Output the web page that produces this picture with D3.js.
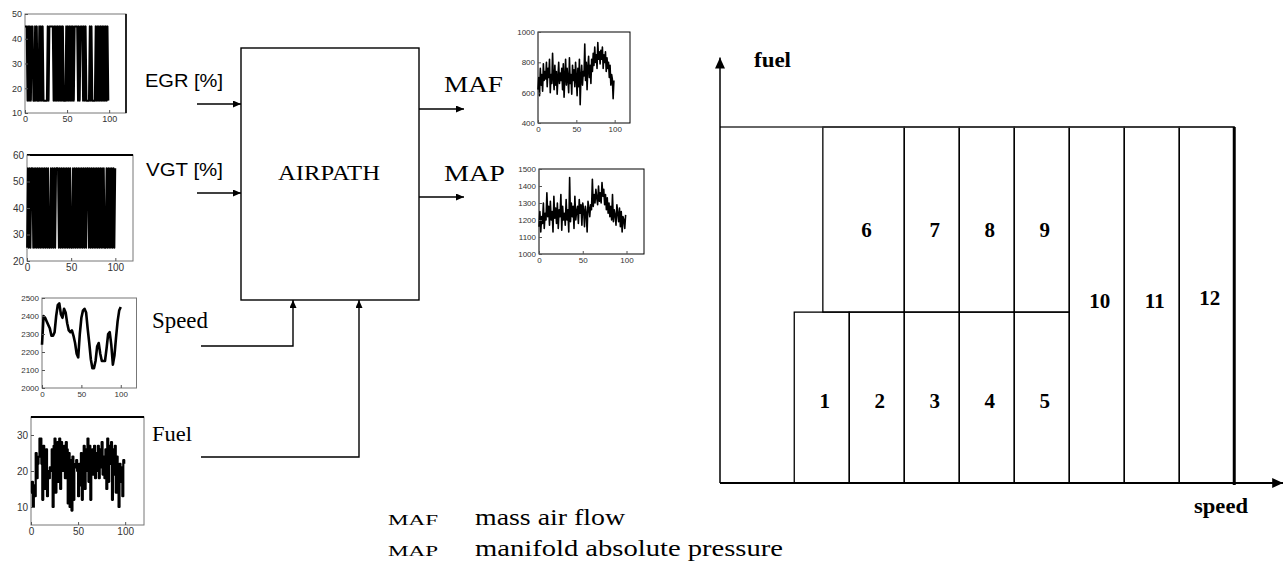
<!DOCTYPE html>
<html><head><meta charset="utf-8">
<script src="https://cdn.jsdelivr.net/npm/d3@7"></script>
<style>body{margin:0;background:#fff} svg{display:block}</style>
</head><body><svg id="c" width="1283" height="576"></svg>
<script>
// ---------- data ----------
const egrValues = [45,45,45,15,45,15,45,15,45,45, 15,15,45,15,45,15,15,45,15,45,
  15,45,15,15,15,15,15,45,15,45, 45,45,45,45,15,45,15,45,15,45,
  15,45,15,45,15,45,15,15,15,45, 15,45,15,45,15,45,15,45,15,45,
  45,45,45,15,45,15,45,45,45,15, 45,15,45,15,15,15,15,45,15,45,
  15,15,15,15,45,15,45,15,45,15, 45,15,45,15,45,15,45,15,45,15];
const vgtValues = [25,55,25,55,25,55,55,25,55,25, 55,25,55,25,55,25,55,25,55,25,
  55,25,55,25,55,25,25,55,25,55, 25,55,25,55,55,55,25,55,25,55,
  25,55,25,55,25,55,25,55,25,55, 25,25,55,25,55,25,55,25,55,25,
  55,25,55,25,55,25,55,25,55,55, 25,55,25,55,25,55,25,55,25,55,
  25,55,25,55,25,55,25,55,25,25, 55,25,55,25,55,25,55,25,55,25,55];
const speedValues = [2240,2400,2390,2370,2350,2330,2290,2290,2310,2400,
  2460,2470,2410,2390,2440,2420,2360,2320,2310,2320,
  2290,2250,2190,2170,2300,2390,2430,2440,2420,2330,
  2250,2160,2110,2110,2150,2230,2250,2190,2150,2150,
  2150,2220,2300,2310,2240,2130,2180,2280,2370,2430,2450];
const fuelValues = [14,17,10,16,13,25,18,22,24,29, 29,22,12,27,15,24,26,13,20,18,
  21,20,26,10,27,29,14,22,28,17, 29,15,28,24,20,27,18,28,26,11,
  25,10,23,9,24,12,21,22,23,20, 13,22,16,25,12,19,27,15,26,20,
  29,17,27,12,24,26,19,27,18,25, 20,27,18,26,21,28,19,24,18,26,
  15,29,17,27,22,28,12,26,19,27, 14,24,18,10,22,17,21,13,23,22];
const mafValues = [620,700,580,760,650,720,610,790,680,740, 690,800,640,760,700,820,600,720,660,860,
  700,620,780,650,740,590,700,800,660,730, 680,760,620,790,570,700,820,650,760,690,
  600,830,660,720,590,780,680,750,640,800, 700,580,760,640,820,520,700,780,650,740,
  710,920,680,800,620,760,840,700,780,660, 820,740,860,780,900,800,850,760,930,820,
  870,790,880,820,900,760,850,800,870,740, 830,760,800,700,780,650,720,690,560,680];
const mapValues = [1160,1250,1130,1220,1180,1300,1150,1240,1200,1360, 1220,1280,1170,1310,1200,1250,1130,1340,1210,1270,
  1180,1300,1150,1260,1220,1350,1140,1280,1200,1240, 1170,1320,1200,1260,1130,1450,1190,1300,1220,1280,
  1150,1340,1200,1250,1280,1180,1320,1240,1290,1170, 1300,1260,1160,1280,1240,1130,1310,1270,1220,1290,
  1260,1440,1280,1350,1300,1380,1330,1290,1400,1310, 1360,1300,1420,1340,1380,1290,1350,1260,1330,1240,
  1300,1220,1280,1200,1350,1190,1260,1230,1170,1290, 1240,1190,1270,1160,1250,1130,1220,1200,1150,1230];
const timeTicks = [0,50,100];
const egrTicks = [10,20,30,40,50];
const vgtTicks = [20,30,40,50,60];
const speedTicks = [2000,2100,2200,2300,2400,2500];
const fuelTicks = [10,20,30];
const mafTicks = [400,600,800,1000];
const mapTicks = [1000,1100,1200,1300,1400,1500];

// operating-region partition (speed units, fuel %)
const regionIds   = ["1","2","3","4","5","6","7","8","9","10","11","12"];
const regionSpeed0 = [1.35,2.35,3.35,4.35,5.35,1.87,3.35,4.35,5.35,6.35,7.35,8.35];
const regionSpeed1 = [2.35,3.35,4.35,5.35,6.35,3.35,4.35,5.35,6.35,7.35,8.35,9.35];
const regionFuel0  = [0,0,0,0,0,48,48,48,48,0,0,0];
const regionFuel1  = [48,48,48,48,48,100,100,100,100,100,100,100];
const regionLabelFuel = [23,23,23,23,23,71,71,71,71,51,51,52];

// ---------- drawing ----------
const svg = d3.select("#c");
const defs = svg.append("defs");
function marker(id, w, h){
  defs.append("marker").attr("id",id).attr("viewBox",`0 0 ${w} ${h}`)
    .attr("refX",w).attr("refY",h/2).attr("markerWidth",w).attr("markerHeight",h)
    .attr("markerUnits","userSpaceOnUse").attr("orient","auto")
    .append("path").attr("d",`M0,0L${w},${h/2}L0,${h}Z`).attr("fill","#000");
}
marker("ah",8,7);
marker("big",11,10);

const serif = "'Liberation Serif','Times New Roman',serif";
const sans = "'Liberation Sans',Arial,sans-serif";

function mini(cfg){
  const x = d3.scaleLinear().domain([0,120]).range([cfg.l,cfg.r]);
  const y = d3.scaleLinear().domain(cfg.yd).range([cfg.b,cfg.t]);
  const g = svg.append("g");
  g.append("rect").attr("x",cfg.l).attr("y",cfg.t).attr("width",cfg.r-cfg.l).attr("height",cfg.b-cfg.t)
    .attr("fill","none").attr("stroke",cfg.frame||"#777").attr("stroke-width",1);
  if(cfg.topThick) g.append("line").attr("x1",cfg.l).attr("x2",cfg.r).attr("y1",cfg.t).attr("y2",cfg.t).attr("stroke","#000").attr("stroke-width",2);
  if(cfg.rightThick) g.append("line").attr("x1",cfg.r).attr("x2",cfg.r).attr("y1",cfg.t).attr("y2",cfg.b).attr("stroke","#000").attr("stroke-width",1.6);
  const step = cfg.step||1;
  const line = d3.line().x((d,i)=>x(i*step)).y(d=>y(d)).curve(cfg.curve||d3.curveLinear);
  g.append("path").datum(cfg.data).attr("d",line).attr("fill","none")
    .attr("stroke","#000").attr("stroke-width",cfg.sw||1.4).attr("stroke-linejoin","round");
  const fmt = d3.format("d");
  const ax = g.append("g").attr("transform",`translate(0,${cfg.b})`)
    .call(d3.axisBottom(x).tickValues(timeTicks).tickFormat(fmt).tickSize(-3).tickPadding(3));
  const ay = g.append("g").attr("transform",`translate(${cfg.l},0)`)
    .call(d3.axisLeft(y).tickValues(cfg.yt).tickFormat(fmt).tickSize(-3).tickPadding(3));
  [ax,ay].forEach(a=>{
    a.select(".domain").remove();
    a.selectAll("text").attr("font-family",sans).attr("font-size",cfg.fs||9).attr("fill","#333");
    a.selectAll("line").attr("stroke","#555");
  });
}

mini({l:25,r:126,t:14,b:113,yd:[10,50],yt:egrTicks,data:egrValues,sw:2,rightThick:true});
mini({l:27,r:133,t:155,b:261,yd:[20,60],yt:vgtTicks,data:vgtValues,sw:1.8,topThick:true,fs:10});
mini({l:42,r:136.5,t:298,b:388,yd:[2000,2500],yt:speedTicks,data:speedValues,step:2,sw:2.6,fs:8});
mini({l:31,r:144,t:417,b:525,yd:[5,35],yt:fuelTicks,data:fuelValues,sw:2.2,curve:d3.curveStepAfter,topThick:true,fs:10});
mini({l:538,r:630,t:32,b:123,yd:[400,1000],yt:mafTicks,data:mafValues,sw:1.6,frame:"#000",fs:8});
mini({l:539,r:644,t:169,b:254,yd:[1000,1500],yt:mapTicks,data:mapValues,sw:1.6,frame:"#000",fs:8});

// block diagram
const bd = svg.append("g").attr("stroke","#000").attr("fill","none").attr("stroke-width",1.4);
bd.append("rect").attr("x",241).attr("y",48).attr("width",178).attr("height",252);
bd.append("path").attr("d","M197,104H241").attr("marker-end","url(#ah)");
bd.append("path").attr("d","M197,193H241").attr("marker-end","url(#ah)");
bd.append("path").attr("d","M419,109H464").attr("marker-end","url(#ah)");
bd.append("path").attr("d","M419,197H464").attr("marker-end","url(#ah)");
bd.append("path").attr("d","M201,346H293V300").attr("marker-end","url(#ah)");
bd.append("path").attr("d","M201,457H359V300").attr("marker-end","url(#ah)");

function txt(x,y,s,font,size,len,opts={}){
  const t = svg.append("text").attr("x",x).attr("y",y).text(s)
    .attr("font-family",font).attr("font-size",size).attr("fill","#000");
  if(len) t.attr("textLength",len).attr("lengthAdjust","spacingAndGlyphs");
  if(opts.anchor) t.attr("text-anchor",opts.anchor);
  if(opts.weight) t.attr("font-weight",opts.weight);
  return t;
}
txt(145,87,"EGR [%]",sans,19,78);
txt(146,176,"VGT [%]",sans,19,77);
txt(278,180,"AIRPATH",serif,20,102);
txt(444,92,"MAF",serif,24,59);
txt(444,181,"MAP",serif,24,61);
txt(152,328,"Speed",serif,23,56);
txt(152,441,"Fuel",serif,22,40);
txt(388,525,"MAF",serif,15,50);
txt(475,525,"mass air flow",serif,24,150);
txt(388,556,"MAP",serif,15,50);
txt(475,556,"manifold absolute pressure",serif,24,308);

// operating regions
const sx = d3.scaleLinear().domain([0,10]).range([720,1270]);
const fy = d3.scaleLinear().domain([0,100]).range([483,127]);
const rg = svg.append("g");
rg.selectAll("rect.reg").data(regionIds).join("rect").attr("class","reg")
  .attr("x",(d,i)=>sx(regionSpeed0[i])).attr("width",(d,i)=>sx(regionSpeed1[i])-sx(regionSpeed0[i]))
  .attr("y",(d,i)=>fy(regionFuel1[i])).attr("height",(d,i)=>fy(regionFuel0[i])-fy(regionFuel1[i]))
  .attr("fill","none").attr("stroke","#000").attr("stroke-width",1.3);
rg.append("line").attr("x1",sx(0)).attr("x2",sx(9.35)).attr("y1",fy(100)).attr("y2",fy(100))
  .attr("stroke","#333").attr("stroke-width",1.4);
rg.append("line").attr("x1",sx(9.35)).attr("x2",sx(9.35)).attr("y1",fy(100)).attr("y2",fy(0)+2)
  .attr("stroke","#000").attr("stroke-width",3);
rg.append("line").attr("x1",sx(0)).attr("x2",sx(0)).attr("y1",fy(0)).attr("y2",fy(119.5))
  .attr("stroke","#000").attr("stroke-width",1.5).attr("marker-end","url(#big)");
rg.append("line").attr("x1",sx(0)).attr("x2",sx(10.24)).attr("y1",fy(0)).attr("y2",fy(0))
  .attr("stroke","#000").attr("stroke-width",1.8).attr("marker-end","url(#big)");
rg.selectAll("text.lab").data(regionIds).join("text").attr("class","lab")
  .attr("x",(d,i)=>(sx(regionSpeed0[i])+sx(regionSpeed1[i]))/2+3)
  .attr("y",(d,i)=>fy(regionLabelFuel[i])+7)
  .attr("text-anchor","middle").attr("font-family",serif).attr("font-size",21).attr("font-weight","bold")
  .text(d=>d);
txt(754,67,"fuel",serif,21,37,{weight:"bold"});
txt(1194,513,"speed",serif,21,54,{weight:"bold"});
</script></body></html>
